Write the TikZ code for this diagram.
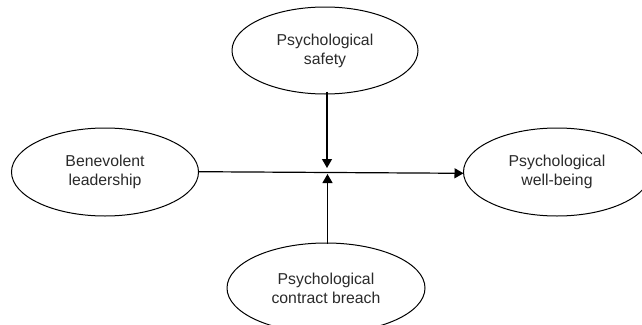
\documentclass[tikz,border=0pt]{standalone}
\usepackage{fontspec}
\setmainfont{Liberation Sans}
\usetikzlibrary{shapes.geometric,arrows.meta}
\definecolor{txt}{HTML}{2A2A2A}
\begin{document}
\begin{tikzpicture}[x=1pt,y=-1pt,
  var/.style={draw, ellipse, line width=1pt, minimum width=187pt, minimum height=88pt,
    inner sep=0pt, outer sep=0pt, align=center, font=\fontsize{15.8}{19}\selectfont, text=txt},
  link/.style={draw, line width=1.2pt, -{Triangle[length=9pt,width=10pt]}}]
\useasboundingbox (0,0) rectangle (642,324);
\node[var, minimum width=186pt, minimum height=87pt] (T) at (325,50.5) {Psychological\\safety};
\node[var] (L) at (105,172) {Benevolent\\leadership};
\node[var] (R) at (557,172) {Psychological\\well-being};
\node[var, minimum width=198pt, minimum height=90pt] (B) at (326,288) {Psychological\\contract breach};
\coordinate (mt) at (327,168);
\coordinate (mb) at (327.5,174);
\draw[link] ([yshift=0.3pt]L.east) -- ([yshift=-1.3pt]R.west);
\draw[link] ([yshift=2.5pt]T.south -| mt) -- (mt);
\draw[link] ([yshift=-0.5pt]B.north -| mb) -- (mb);
\end{tikzpicture}
\end{document}
